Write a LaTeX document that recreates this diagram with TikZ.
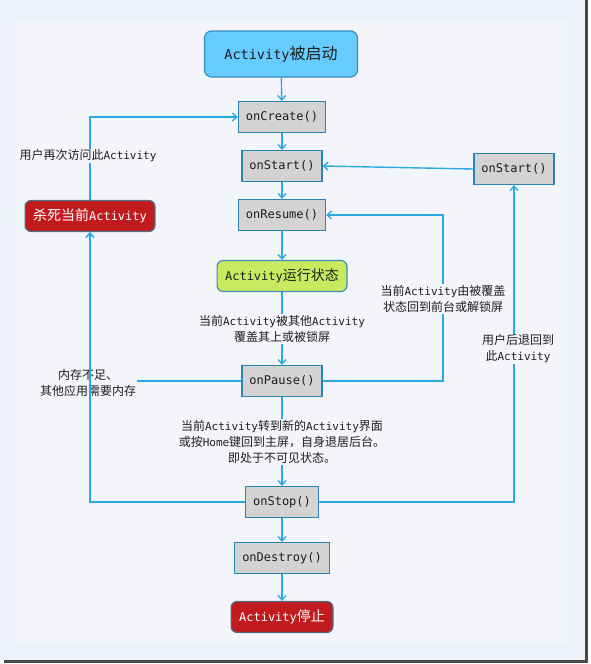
\documentclass[tikz,border=0pt]{standalone}
\usepackage{fontspec}
\setmainfont{DejaVu Sans Mono}
\newfontfamily\cjkf{Noto Sans CJK SC}
\usetikzlibrary{arrows.meta}
\def\zhsize{12}
\newcommand\zh[1]{{\cjkf\fontsize{\zhsize}{16}\selectfont #1}}
\definecolor{outerbg}{HTML}{EDF1F8}
\definecolor{panel}{HTML}{F3F5FB}
\definecolor{shadow}{HTML}{4A4A4A}
\definecolor{lineblue}{HTML}{29A9E1}
\definecolor{grayfill}{HTML}{D3D3D3}
\definecolor{grayedge}{HTML}{2B84B6}
\definecolor{topfill}{HTML}{66CCFF}
\definecolor{topedge}{HTML}{3B8DBD}
\definecolor{greenfill}{HTML}{C8EA5E}
\definecolor{redfill}{HTML}{C11B1F}
\definecolor{rededge}{HTML}{4F6B85}
\definecolor{textc}{HTML}{1E1E1E}
\begin{document}
\begin{tikzpicture}[x=1pt,y=-1pt,
  line/.style={draw=lineblue, line width=1.4pt},
  arr/.style={line, -{Straight Barb[length=4.5pt,width=8pt,line width=1.3pt]}},
  fn/.style={draw=grayedge, fill=grayfill, line width=1.2pt, minimum height=31pt,
    inner xsep=7.5pt, inner ysep=0pt, text=textc, font=\fontsize{12}{14}\selectfont},
  state/.style={rounded corners=6pt, line width=1.2pt, minimum height=31pt,
    inner xsep=8pt, inner ysep=0pt, font=\def\zhsize{14}\fontsize{12}{14}\selectfont},
  redstate/.style={state, fill=redfill, draw=rededge, text=white},
  lbl/.style={fill=panel, inner sep=1pt, align=center, text=textc,
    font=\def\zhsize{12}\fontsize{11}{16}\selectfont}]
\useasboundingbox (0,0) rectangle (590,664);
% frame
\fill[shadow] (4,0) rectangle (588,663);
\fill[outerbg] (0,0) rectangle (585,660);
\fill[panel] (16,21) rectangle (567,642);
% main nodes
\node[state, fill=topfill, draw=topedge, rounded corners=7pt, minimum width=153pt,
  minimum height=46pt, text=textc, font=\def\zhsize{16}\fontsize{13.5}{16}\selectfont]
  (start) at (281,54) {Activity\zh{被启动}};
\node[fn] (create) at (282,117) {onCreate()};
\node[fn] (ostart) at (282,166) {onStart()};
\node[fn] (ostartR) at (514,169) {onStart()};
\node[fn] (resume) at (282,215) {onResume()};
\node[redstate] (kill) at (90,216) {\zh{杀死当前}Activity};
\node[state, fill=greenfill, draw=topedge, text=textc] (run) at (282,276) {Activity\zh{运行状态}};
\node[fn] (pause) at (282,381) {onPause()};
\node[fn] (stop) at (282,502) {onStop()};
\node[fn] (destroy) at (282,558) {onDestroy()};
\node[redstate] (halt) at (282,617) {Activity\zh{停止}};
% connectors
\draw[arr] (start) -- (create);
\draw[arr] (create) -- (ostart);
\draw[arr] (ostart) -- (resume);
\draw[arr] (resume) -- (run);
\draw[arr] (run) -- (pause);
\draw[arr] (pause) -- (stop);
\draw[arr] (stop) -- (destroy);
\draw[arr] (destroy) -- (halt);
\draw[arr] (kill.north) |- (create.west);
\draw[arr] (pause.west) -| (kill.south);
\coordinate (rr) at (443,215);
\draw[arr] (pause.east) -| (rr) -- (resume.east);
\draw[arr] (stop.east) -| (ostartR.south);
\draw[arr] (ostartR.west) -- (ostart.east);
% labels
\node[lbl] (l1) at (88,156) {\zh{用户再次访问此}Activity};
\node[lbl] (l2) at (88,383) {\zh{内存不足、}\\\zh{其他应用需要内存}};
\draw[arr] (stop.west) -| (kill.south);
\node[lbl] (l3) at (282,329) {\zh{当前}Activity\zh{被其他}Activity\\\zh{覆盖其上或被锁屏}};
\node[lbl] (l4) at (443,299) {\zh{当前}Activity\zh{由被覆盖}\\\zh{状态回到前台或解锁屏}};
\node[lbl] (l5) at (518,349) {\zh{用户后退回到}\\\zh{此}Activity};
\node[lbl] (l6) at (282,442) {\zh{当前}Activity\zh{转到新的}Activity\zh{界面}\\\zh{或按}Home\zh{键回到主屏，自身退居后台。}\\\zh{即处于不可见状态。}};
\end{tikzpicture}
\end{document}
